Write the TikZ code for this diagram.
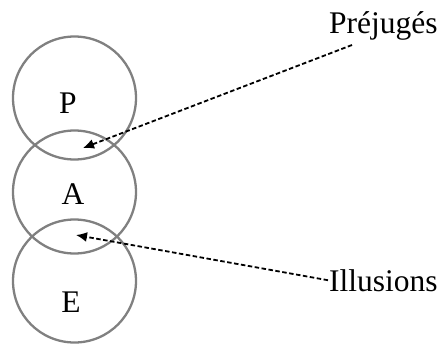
\documentclass[tikz,border=0pt]{standalone}
\usepackage{fontspec}
\setmainfont{Liberation Serif}
\usetikzlibrary{arrows.meta}
\begin{document}
\begin{tikzpicture}[x=1pt,y=-1pt,
  ring/.style={draw=black!50,line width=2.3pt,circle,minimum size=123pt,inner sep=0pt},
  lbl/.style={font=\fontsize{31.5}{36}\selectfont,inner sep=0pt},
  conn/.style={line width=1.8pt,dash pattern=on 4.5pt off 2.5pt,-{Latex[length=11pt,width=10pt]}}]
\useasboundingbox (0,0) rectangle (443,343);
\node[ring] (cp) at (74.5,98) {};
\node[ring] (ca) at (74.5,192) {};
\node[ring] (ce) at (74.5,281) {};
\node[lbl,anchor=base] (p) at (68,113) {P};
\node[lbl,anchor=base] (a) at (73,204) {A};
\node[lbl,anchor=base] (e) at (71,312) {E};
\node[lbl,anchor=base west] (prej) at (329,33) {Préjugés};
\node[lbl,anchor=base west] (ill) at (329,291) {Illusions};
\coordinate (t1) at (83,148);
\coordinate (t2) at (76,235);
\draw[conn] ([xshift=23pt,yshift=-5pt]prej.south west) -- (t1);
\draw[conn] ([xshift=-1pt]ill.west) -- (t2);
\end{tikzpicture}
\end{document}
